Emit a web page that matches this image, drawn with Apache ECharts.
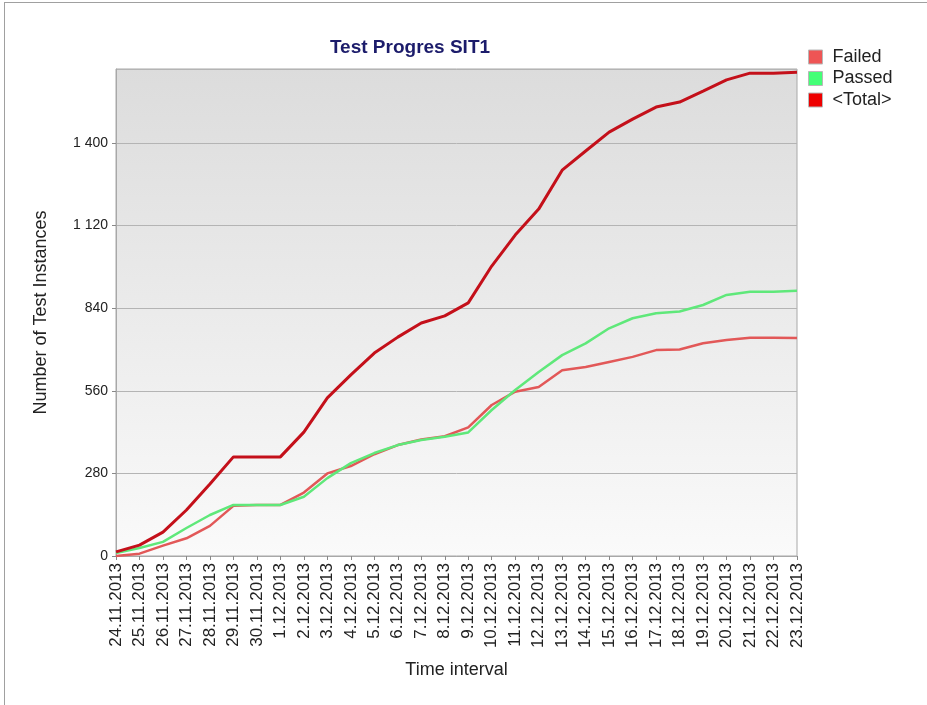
<!DOCTYPE html>
<html>
<head>
<meta charset="utf-8">
<script src="https://cdn.jsdelivr.net/npm/echarts@6/dist/echarts.min.js"></script>
<style>
html,body{margin:0;padding:0;background:#fff;}
#frame{position:absolute;left:4px;top:2px;width:923px;height:703px;border-left:1px solid #a0a0a0;border-top:1px solid #a0a0a0;}
#chart{position:absolute;left:0;top:0;width:927px;height:705px;}
</style>
</head>
<body>
<div id="frame"></div>
<div id="chart"></div>
<script>
const categories = ["24.11.2013","25.11.2013","26.11.2013","27.11.2013","28.11.2013","29.11.2013","30.11.2013",
  "1.12.2013","2.12.2013","3.12.2013","4.12.2013","5.12.2013","6.12.2013","7.12.2013","8.12.2013","9.12.2013",
  "10.12.2013","11.12.2013","12.12.2013","13.12.2013","14.12.2013","15.12.2013","16.12.2013","17.12.2013",
  "18.12.2013","19.12.2013","20.12.2013","21.12.2013","22.12.2013","23.12.2013"];
const failed = [0, 8, 35, 60, 102, 170, 173, 173, 215, 280, 305, 345, 376, 395, 406, 436,
  512, 557, 573, 630, 641, 658, 675, 698, 700, 721, 732, 740, 740, 739];
const passed = [10, 27, 48, 95, 139, 173, 173, 173, 201, 264, 315, 349, 376, 393, 404, 419,
  495, 563, 624, 681, 721, 772, 806, 823, 829, 851, 885, 896, 896, 899];
const total = [14, 37, 81, 156, 244, 336, 336, 336, 420, 536, 614, 688, 742, 790, 814, 858,
  983, 1088, 1176, 1308, 1373, 1437, 1481, 1522, 1539, 1576, 1614, 1637, 1637, 1640];
const yTicks = [0, 280, 560, 840, 1120, 1400];

const chart = echarts.init(document.getElementById('chart'), null, {renderer:'canvas'});
const font = 'Arial, "Liberation Sans", sans-serif';
chart.setOption({
  backgroundColor: 'transparent',
  animation: false,
  title: {
    text: 'Test Progres SIT1', left: 405, top: 33, textAlign: 'center',
    textStyle: {fontFamily: font, fontSize: 19, fontWeight: 'bold', color: '#1c1c6b'}
  },
  legend: {
    orient: 'vertical', left: 808, top: 48, itemGap: 3.5, itemWidth: 14, itemHeight: 14,
    icon: 'rect', selectedMode: false, padding: 0,
    textStyle: {fontFamily: font, fontSize: 18, lineHeight: 18, color: '#222', padding: [0,0,0,5]},
    data: [
      {name: 'Failed', itemStyle: {color: '#ee5555', borderColor: '#b8b8b8', borderWidth: 1}},
      {name: 'Passed', itemStyle: {color: '#44ff77', borderColor: '#b8b8b8', borderWidth: 1}},
      {name: '<Total>', itemStyle: {color: '#ee0000', borderColor: '#b8b8b8', borderWidth: 1}}
    ]
  },
  grid: {
    left: 116, right: 130, top: 69, bottom: 149, show: true,
    borderColor: '#a8a8a8', borderWidth: 1,
    backgroundColor: new echarts.graphic.LinearGradient(0, 0, 0, 1, [
      {offset: 0, color: '#dcdcdc'}, {offset: 1, color: '#fafafa'}
    ])
  },
  xAxis: {
    type: 'category', data: categories, boundaryGap: false,
    name: 'Time interval', nameLocation: 'middle', nameGap: 105,
    nameTextStyle: {fontFamily: font, fontSize: 18, color: '#222'},
    axisLine: {show: true, lineStyle: {color: '#a8a8a8'}},
    axisTick: {show: true, alignWithLabel: true, length: 4, lineStyle: {color: '#888'}},
    axisLabel: {rotate: 90, interval: 0, fontFamily: font, fontSize: 17, color: '#222', margin: 7},
    splitLine: {show: false}
  },
  yAxis: {
    type: 'value', min: 0, max: 1651, interval: 280,
    name: 'Number of Test Instances', nameLocation: 'middle', nameGap: 66, nameRotate: 90,
    nameTextStyle: {fontFamily: font, fontSize: 18, color: '#222'},
    axisLine: {show: true, lineStyle: {color: '#a8a8a8'}},
    axisTick: {show: true, length: 4, lineStyle: {color: '#888'}},
    axisLabel: {
      showMaxLabel: false, fontFamily: font, fontSize: 14, color: '#222', margin: 8,
      formatter: v => yTicks.indexOf(v) >= 0 ? String(v).replace(/\B(?=(\d{3})+(?!\d))/g, ' ') : ''
    },
    splitLine: {show: true, lineStyle: {color: '#b4b4b4', width: 1}}
  },
  series: [
    {name: 'Failed', type: 'line', data: failed, symbol: 'none', z: 2,
      lineStyle: {color: '#e25858', width: 2.5}, itemStyle: {color: '#ee5555'}},
    {name: 'Passed', type: 'line', data: passed, symbol: 'none', z: 3,
      lineStyle: {color: '#5fe87a', width: 2.5}, itemStyle: {color: '#44ff77'}},
    {name: '<Total>', type: 'line', data: total, symbol: 'none', z: 4,
      lineStyle: {color: '#c4101a', width: 3}, itemStyle: {color: '#ee0000'}}
  ]
});
</script>
</body>
</html>
